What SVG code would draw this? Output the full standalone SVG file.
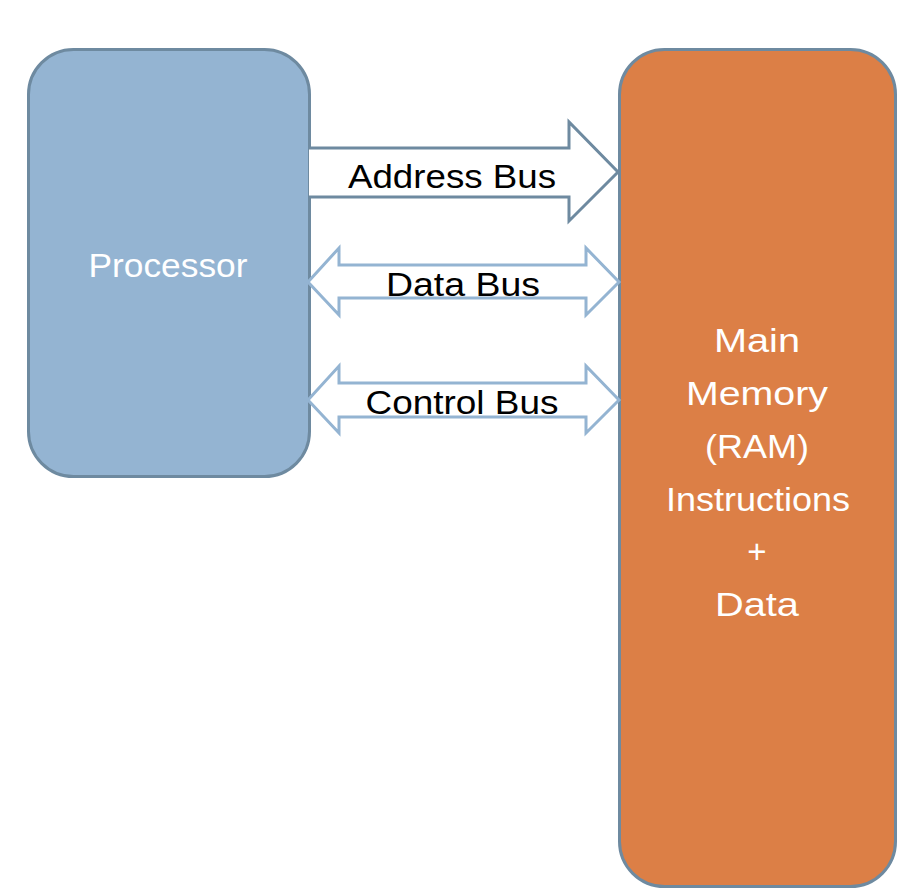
<svg xmlns="http://www.w3.org/2000/svg" width="915" height="889" viewBox="0 0 915 889">
<style>
.box{stroke:#6e8aa0;stroke-width:3}
.t{font-family:"Liberation Sans","DejaVu Sans",sans-serif;font-size:33px;text-anchor:middle}
.w{fill:#ffffff}
.k{fill:#000000}
.addr{fill:#ffffff;stroke:#6e8aa0;stroke-width:3;stroke-linejoin:miter}
.bi{fill:#ffffff;stroke:#94b4d2;stroke-width:3;stroke-linejoin:miter}
</style>
<rect width="915" height="889" fill="#ffffff"/>
<g id="processor">
<rect class="box" x="28.5" y="49.5" width="281" height="427" rx="45" ry="45" fill="#94b4d2"/>
<text class="t w" x="168" y="277" textLength="159" lengthAdjust="spacingAndGlyphs">Processor</text>
</g>
<g id="memory">
<rect class="box" x="619.5" y="49.5" width="276" height="837" rx="45" ry="45" fill="#dc7f46"/>
<text class="t w" x="757" y="352" textLength="86" lengthAdjust="spacingAndGlyphs">Main</text>
<text class="t w" x="757" y="405" textLength="142" lengthAdjust="spacingAndGlyphs">Memory</text>
<text class="t w" x="757" y="458" textLength="104" lengthAdjust="spacingAndGlyphs">(RAM)</text>
<text class="t w" x="758" y="511" textLength="184" lengthAdjust="spacingAndGlyphs">Instructions</text>
<text class="t w" x="757" y="563" style="font-weight:300">+</text>
<text class="t w" x="757" y="616" textLength="84" lengthAdjust="spacingAndGlyphs">Data</text>
</g>
<g id="connectors">
<path class="addr" d="M309,148 L569,148 L569,122 L618,172 L569,221 L569,197 L309,197"/>
<path class="bi" d="M308,282 L339,248 L339,265 L586,265 L586,248 L619,282 L586,315 L586,298 L339,298 L339,315 Z"/>
<path class="bi" d="M308,400 L339,366 L339,383 L586,383 L586,366 L619,400 L586,433 L586,417 L339,417 L339,433 Z"/>
<text class="t k" x="452" y="188" textLength="208" lengthAdjust="spacingAndGlyphs">Address Bus</text>
<text class="t k" x="463" y="296" textLength="154" lengthAdjust="spacingAndGlyphs">Data Bus</text>
<text class="t k" x="462" y="414" textLength="193" lengthAdjust="spacingAndGlyphs">Control Bus</text>
</g>
</svg>
